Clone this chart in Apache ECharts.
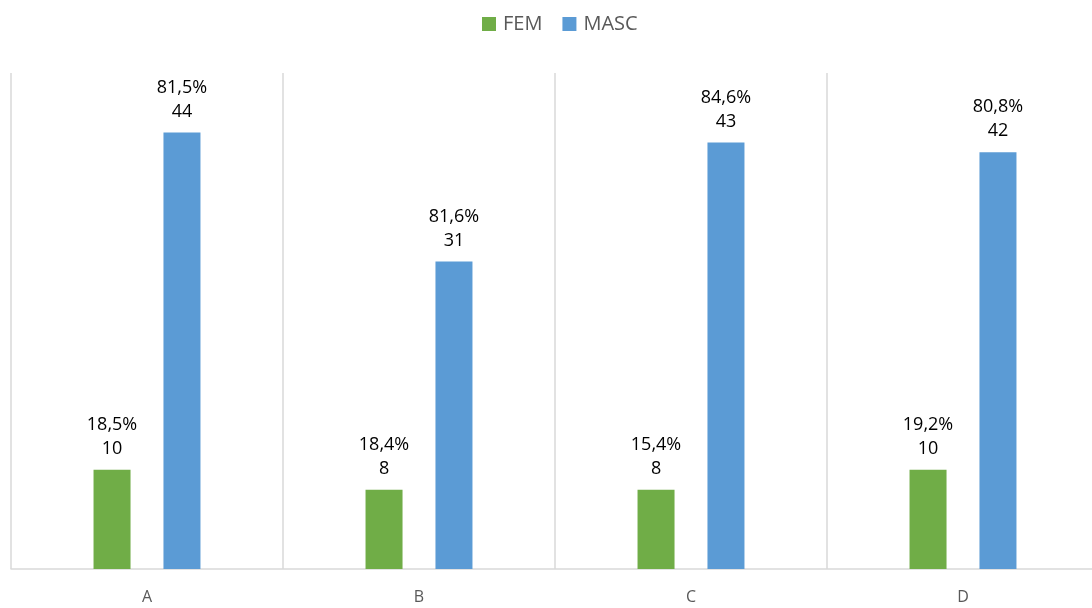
<!DOCTYPE html>
<html><head><meta charset="utf-8">
<script src="https://cdn.jsdelivr.net/npm/echarts@6/dist/echarts.min.js"></script>
<style>html,body{margin:0;padding:0;background:#fff}#c{width:1092px;height:608px}</style>
</head><body><div id="c"></div>
<script>
var categories = ['A', 'B', 'C', 'D'];
var femValues = [10, 8, 8, 10];
var mascValues = [44, 31, 43, 42];
var femPct = ['18,5%', '18,4%', '15,4%', '19,2%'];
var mascPct = ['81,5%', '81,6%', '84,6%', '80,8%'];

var chart = echarts.init(document.getElementById('c'));
function lbl(pcts) {
  return {
    show: true, position: 'top', distance: 9,
    fontFamily: 'Open Sans, Calibri, sans-serif', fontSize: 18, color: '#000', lineHeight: 24,
    formatter: function (p) { return pcts[p.dataIndex] + '\n' + p.value; }
  };
}
chart.setOption({
  animation: false,
  legend: {
    top: 9, left: 477, itemWidth: 14, itemHeight: 14, itemGap: 20, icon: 'rect',
    textStyle: { fontFamily: 'Open Sans, Calibri, sans-serif', fontSize: 20, color: '#595959', padding: [0, 0, 0, 2] },
    data: ['FEM', 'MASC']
  },
  grid: { left: 11, width: 1088, top: 73, height: 496, outerBoundsMode: 'none' },
  xAxis: {
    type: 'category', data: categories,
    axisLine: { lineStyle: { color: '#d9d9d9', width: 1.5 } },
    axisTick: { show: false },
    axisLabel: { fontFamily: 'Open Sans, Calibri, sans-serif', fontSize: 16, color: '#595959', margin: 20 },
    splitLine: { show: true, lineStyle: { color: '#d9d9d9', width: 1.5 } }
  },
  yAxis: {
    type: 'value', min: 0, max: 50, show: false, splitLine: { show: false }
  },
  series: [
    { name: 'FEM', type: 'bar', data: femValues, barWidth: 37, barGap: '89%',
      itemStyle: { color: '#70AD47' }, label: lbl(femPct) },
    { name: 'MASC', type: 'bar', data: mascValues, barWidth: 37,
      itemStyle: { color: '#5B9BD5' }, label: lbl(mascPct) }
  ]
});
</script></body></html>
